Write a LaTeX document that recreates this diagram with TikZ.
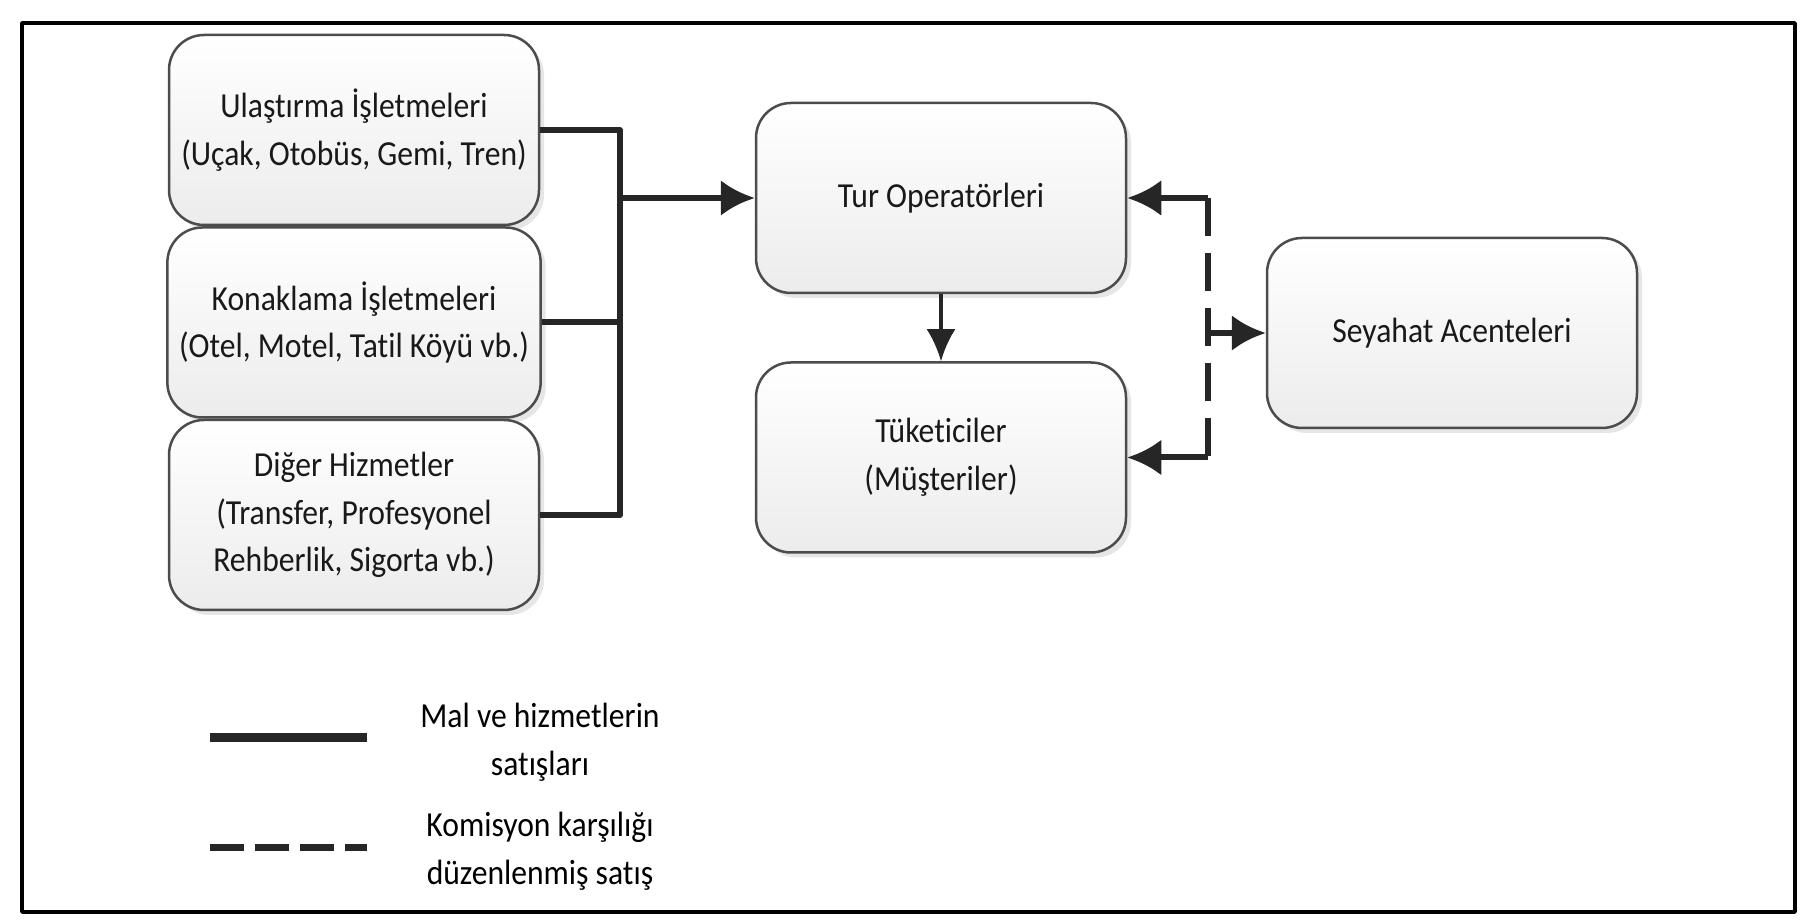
\documentclass[tikz,border=0pt]{standalone}
\usepackage{fontspec}
\setmainfont{Carlito}[FakeStretch=0.9,Ligatures=NoCommon]
\usetikzlibrary{positioning,arrows.meta,shadows}
\begin{document}
\begin{tikzpicture}[x=0.1mm,y=-0.1mm,>={Latex[length=3.4mm,width=3.6mm]},line join=round,
    font=\fontsize{10}{13.6}\selectfont,
    kutu/.style={draw=gray!60!black,line width=0.25mm,rounded corners=3.5mm,top color=white,bottom color=gray!15,
        minimum width=37mm,minimum height=19mm,align=center,text=black!90,
        drop shadow={shadow xshift=0.5mm,shadow yshift=-0.5mm,opacity=0.2}},
    satis/.style={line width=0.6mm,black!85},
    komisyon/.style={satis,dash pattern=on 3.8mm off 1.7mm}]
    \useasboundingbox (0,0) rectangle (1802,924);
    \draw[line width=0.35mm] (22,23) rectangle (1795,912);
    % isletmeler
    \node[kutu] (ula) at (354,130) {Ulaştırma İşletmeleri\\(Uçak, Otobüs, Gemi, Tren)};
    \node[kutu,below=0pt of ula] (kon) {Konaklama İşletmeleri\\(Otel, Motel, Tatil Köyü vb.)};
    \node[kutu,below=0pt of kon] (dig) {Diğer Hizmetler\\(Transfer, Profesyonel\\Rehberlik, Sigorta vb.)};
    \node[kutu] (tur) at (941,198) {Tur Operatörleri};
    \node[kutu,below=6.7mm of tur] (tuk) {Tüketiciler\\(Müşteriler)};
    \node[kutu] (sey) at (1452,333) {Seyahat Acenteleri};
    % baglantilar
    \coordinate (bus) at (620,0);
    \coordinate (kom) at (1208,0);
    \draw[satis] (ula.east) -- (bus |- ula.east) -- (bus |- dig.east) -- (dig.east);
    \draw[satis] (kon.east) -- (bus |- kon.east);
    \draw[satis,->] (bus |- tur.west) -- (tur.west);
    \draw[line width=0.35mm,black!85,-{Latex[length=3.2mm,width=2.9mm]}] (tur) -- (tuk);
    \draw[komisyon] (kom |- tur.east) -- (kom |- tuk.east);
    \draw[satis,->] (kom |- tur.east) -- (tur.east);
    \draw[satis,->] (kom |- tuk.east) -- (tuk.east);
    \draw[satis,->] (kom |- sey.west) -- (sey.west);
    % aciklama
    \coordinate (s1) at (210,738);
    \coordinate (s2) at (367,738);
    \draw[satis,line width=0.9mm] (s1) -- (s2);
    \node[align=center] (saciklama) at (540,742) {Mal ve hizmetlerin\\satışları};
    \coordinate (k1) at (210,848);
    \coordinate (k2) at (367,848);
    \draw[komisyon,line width=0.7mm,dash pattern=on 3.4mm off 1.1mm] (k1) -- (k2);
    \node[align=center] (kaciklama) at (540,851) {Komisyon karşılığı\\düzenlenmiş satış};
\end{tikzpicture}
\end{document}
